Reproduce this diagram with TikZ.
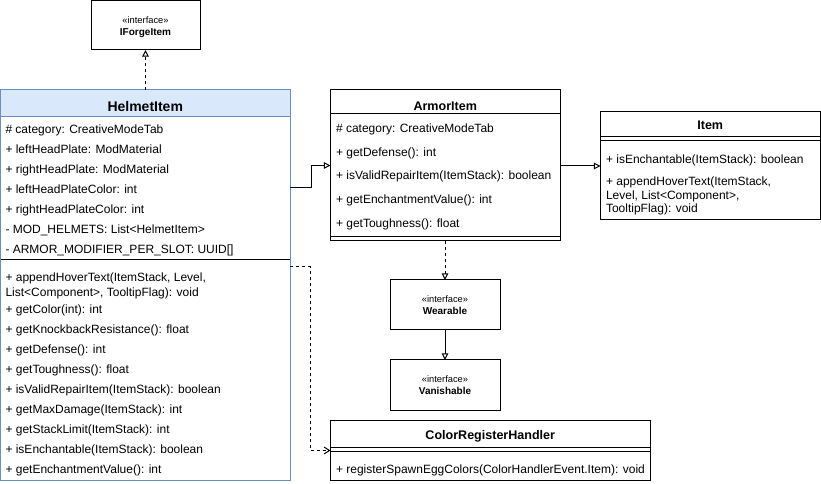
\documentclass[tikz,border=0pt]{standalone}
\usepackage{fontspec}
\setmainfont{Liberation Sans}
\usetikzlibrary{arrows.meta,fit,calc}
\definecolor{hfill}{HTML}{DAE8FC}
\definecolor{hline}{HTML}{6C8EBF}
\begin{document}
\begin{tikzpicture}[x=0.75pt,y=-0.75pt,line width=0.75pt,
  cls/.style={draw, inner sep=0pt, outer sep=0pt},
  mem/.style={anchor=base west, inner sep=0pt, font=\fontsize{9}{11.25}\selectfont, align=left},
  ttl/.style={anchor=base, inner sep=0pt, font=\fontsize{9.4}{11}\selectfont\bfseries},
  ster/.style={anchor=base, inner sep=0pt, font=\fontsize{7}{8}\selectfont},
  iname/.style={anchor=base, inner sep=0pt, font=\fontsize{7.5}{9}\selectfont\bfseries},
  inh/.style={-{Triangle[open,length=5pt,width=5pt]}},
  real/.style={dash pattern=on 2.25pt off 2.25pt,-{Triangle[open,length=5pt,width=5pt]}},
  dep/.style={dash pattern=on 2.25pt off 2.25pt,-{Straight Barb[length=4pt,width=5pt]}}]
\useasboundingbox (0,0) rectangle (821,484);

% IForgeItem
\node[cls, fit={(91,0.5) (200,50)}] (iforge) {};
\node[ster] (iforgeS) at (145.5,23.5) {«interface»};
\node[iname] (iforgeN) at (145.5,35.5) {IForgeItem};

% HelmetItem
\fill[hfill] (0.5,90) rectangle (290,117);
\node[cls, draw=hline, fit={(0.5,90) (290,480)}] (helmet) {};
\draw[hline] (0.5,117) -- (290,117);
\draw (0.5,260) -- (290,260);
\node[ttl, font=\fontsize{10.5}{12}\selectfont\bfseries] (helmetT) at (145.25,111.5) {HelmetItem};
\node[mem] (h1) at (5,134) {\# category: CreativeModeTab};
\node[mem] (h2) at (5,154) {+ leftHeadPlate: ModMaterial};
\node[mem] (h3) at (5,174) {+ rightHeadPlate: ModMaterial};
\node[mem] (h4) at (5,194) {+ leftHeadPlateColor: int};
\node[mem] (h5) at (5,214) {+ rightHeadPlateColor: int};
\node[mem] (h6) at (5,234) {- MOD\_HELMETS: List<HelmetItem>};
\node[mem] (h7) at (5,254) {- ARMOR\_MODIFIER\_PER\_SLOT: UUID[]};
\node[mem] (m1) at (5,296.5) {+ appendHoverText(ItemStack, Level,\\List<Component>, TooltipFlag): void};
\node[mem] (m2) at (5,314) {+ getColor(int): int};
\node[mem] (m3) at (5,334) {+ getKnockbackResistance(): float};
\node[mem] (m4) at (5,354) {+ getDefense(): int};
\node[mem] (m5) at (5,374) {+ getToughness(): float};
\node[mem] (m6) at (5,394) {+ isValidRepairItem(ItemStack): boolean};
\node[mem] (m7) at (5,414) {+ getMaxDamage(ItemStack): int};
\node[mem] (m8) at (5,434) {+ getStackLimit(ItemStack): int};
\node[mem] (m9) at (5,454) {+ isEnchantable(ItemStack): boolean};
\node[mem] (m10) at (5,474) {+ getEnchantmentValue(): int};

% ArmorItem
\node[cls, fit={(330.5,90) (560,241)}] (armor) {};
\draw (330.5,114) -- (560,114);
\draw (330.5,236.5) -- (560,236.5);
\node[ttl] (armorT) at (445.25,110.5) {ArmorItem};
\node[mem] (a1) at (335.5,132.5) {\# category: CreativeModeTab};
\node[mem] (a2) at (335.5,156.2) {+ getDefense(): int};
\node[mem] (a3) at (335.5,180) {+ isValidRepairItem(ItemStack): boolean};
\node[mem] (a4) at (335.5,203.7) {+ getEnchantmentValue(): int};
\node[mem] (a5) at (335.5,227.5) {+ getToughness(): float};

% Item
\node[cls, fit={(600.5,112) (820,220)}] (item) {};
\draw (600.5,137) -- (820,137);
\draw (600.5,141) -- (820,141);
\node[ttl] (itemT) at (710.25,130) {Item};
\node[mem] (i1) at (605.5,163.5) {+ isEnchantable(ItemStack): boolean};
\node[mem, font=\fontsize{9}{10.1}\selectfont] (i2) at (605.5,212.5) {+ appendHoverText(ItemStack,\\Level, List<Component>,\\TooltipFlag): void};

% Wearable / Vanishable
\node[cls, fit={(390,280) (500,330)}] (wear) {};
\node[ster] (wearS) at (445,302.3) {«interface»};
\node[iname] (wearN) at (445,314.3) {Wearable};
\node[cls, fit={(390,360) (500,410.5)}] (van) {};
\node[ster] (vanS) at (445,382.3) {«interface»};
\node[iname] (vanN) at (445,394.3) {Vanishable};

% ColorRegisterHandler
\node[cls, fit={(330.5,421) (650,480)}] (crh) {};
\draw (330.5,447) -- (650,447);
\draw (330.5,451) -- (650,451);
\node[ttl] (crhT) at (490.25,439.5) {ColorRegisterHandler};
\node[mem] (c1) at (335.5,473) {+ registerSpawnEggColors(ColorHandlerEvent.Item): void};

% connectors
\draw[real] (iforge.south |- helmet.north) -- (iforge.south);
\draw[inh] ($(helmet.north east)+(0,98)$) -- ++(21,0) |- (armor.west);
\draw[inh] (armor.east |- item.west) -- (item.west);
\draw[real] (wear.north |- armor.south) -- (wear.north);
\draw[inh] (wear.south) -- (van.north);
\draw[dep] ($(helmet.north east)+(0,177)$) -- ++(20,0) |- (crh.west);
\end{tikzpicture}
\end{document}
